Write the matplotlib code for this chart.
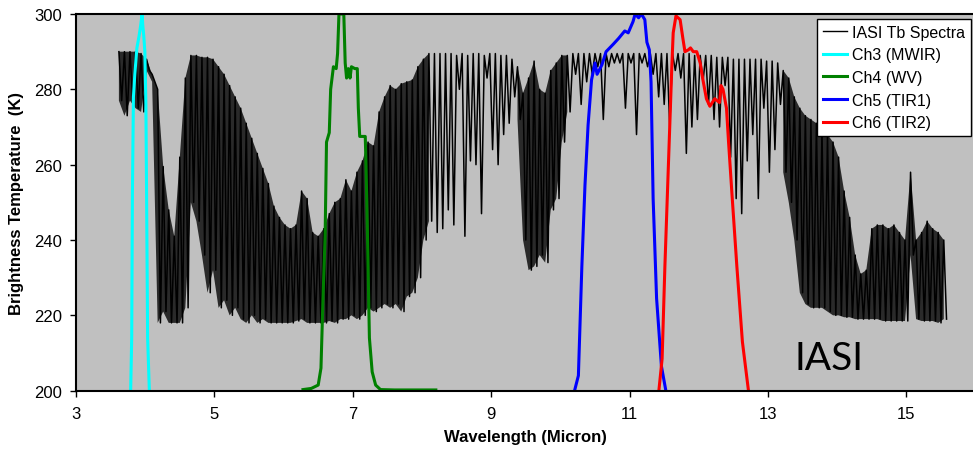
import numpy as np
import matplotlib
matplotlib.use('Agg')
import matplotlib.pyplot as plt

plt.rcParams['font.family'] = ['Liberation Sans', 'DejaVu Sans']

# IASI Tb spectrum, read as upper / lower envelope every 0.08 micron
env_wl = np.round(np.arange(3.62, 15.55, 0.08), 2)
env_top = [
    290, 290, 290, 290, 289.5, 288, 284, 280, 259.5, 248,
    241, 262, 283, 289, 289, 288.5, 288.5, 288, 286, 284,
    281, 278, 275, 271, 267, 263, 259, 255, 249, 246,
    244, 243, 244, 253, 251, 242, 241, 243, 247, 250,
    251, 256, 253, 258, 261, 266, 265, 274, 278, 281,
    280, 281.5, 282, 282.5, 286, 288, 289.5, 289.5, 289.5, 289.5,
    289.5, 289, 289.5, 289, 289.5, 289.5, 289, 289.5, 289.5, 289,
    289, 288, 286, 279, 283, 287.5, 280, 279, 285, 287,
    289, 289, 289.5, 289.5, 289.5, 289.5, 289.5, 289.5, 289.5, 289.5,
    289.5, 289.5, 289.5, 289.5, 289.5, 289.5, 289.5, 289.5, 289.5, 289.5,
    289.5, 289.5, 289.5, 289.5, 289, 289, 289, 289, 288.5, 288.5,
    288.5, 288, 288, 288, 288, 288, 288, 287.5, 287.5, 287,
    285, 283, 278, 275, 273, 272, 271, 269, 268, 266,
    262, 253, 246, 236, 231, 232, 243, 244, 244, 243,
    244, 242, 240, 258, 240, 242, 245, 243, 242, 240,
]
env_bot = [
    277, 273, 277, 275, 274, 285, 282, 218, 221, 218,
    218, 218, 222, 250, 245, 236, 226, 232, 222, 224,
    220, 222, 219, 218, 220, 218, 219, 218, 218, 218,
    218, 218, 218.5, 219, 218, 218, 218, 218, 218.5, 218,
    219, 219, 220, 219, 220, 222, 221, 222, 223, 222,
    223, 221, 225, 226, 230, 240, 245, 242, 243, 248,
    244, 280, 241, 261, 260, 247, 283, 264, 260, 268,
    271, 278, 272, 240, 232, 233, 236, 234, 248, 251,
    266, 274, 284, 276, 282, 284, 286, 272, 286, 287,
    287, 275, 287, 268, 287, 286, 284, 278, 276, 270,
    285, 283, 263, 270, 272, 282, 276, 272, 270, 281,
    262, 251, 247, 261, 268, 251, 275, 258, 264, 276,
    258, 250, 240, 226, 223, 222, 222, 222, 221, 220,
    220, 219.5, 219.5, 219, 219, 219, 219, 219, 218.5, 218.5,
    218.5, 218.5, 218.5, 236, 219, 218.5, 218.5, 218.5, 218, 219,
]
# wavelength spans where the spectrum is a dense comb of lines
dense_spans = [(3.62, 4.14), (4.18, 8.1), (9.38, 10.1), (13.22, 15.58)]

# channel spectral responses, drawn on the Tb scale
ch3_wl = [3.79, 3.805, 3.815, 3.83, 3.85, 3.88, 3.91, 3.935, 3.955, 3.965,
          3.98, 3.995, 4.01, 4.02, 4.035, 4.06]
ch3_tb = [200, 214, 252, 278, 284, 291, 294, 297, 300, 297,
          294, 290, 276, 252, 214, 200]

ch4_wl = [6.28, 6.40, 6.50, 6.54, 6.57, 6.60, 6.62, 6.66, 6.68, 6.72, 6.76,
          6.78, 6.80, 6.87, 6.89, 6.91, 6.935, 6.96, 6.98, 7.03, 7.065, 7.08,
          7.10, 7.18, 7.19, 7.21, 7.24, 7.28, 7.33, 7.40, 7.60, 8.00, 8.20]
ch4_tb = [200.3, 200.6, 201.5, 206, 225, 241, 266, 268.5, 280, 286, 285.5,
          289.5, 300, 300, 287, 283, 285.5, 283, 286, 285.5, 285.5, 275,
          267.5, 267.5, 260.5, 243, 214, 205, 201.5, 200.3, 200.2, 200.2, 200.2]

ch5_wl = [10.21, 10.26, 10.31, 10.355, 10.40, 10.45, 10.50, 10.53, 10.60,
          10.66, 10.765, 10.84, 10.93, 10.98, 11.05, 11.08, 11.13, 11.17,
          11.22, 11.25, 11.285, 11.31, 11.34, 11.39, 11.46, 11.52]
ch5_tb = [200.4, 204, 233, 254.5, 270.5, 282.5, 287, 284, 286.5,
          290, 292, 293.5, 295.5, 295, 298, 300, 299, 300,
          298.5, 292.5, 290.5, 282, 251, 224.5, 206.5, 200.4]

ch6_wl = [11.425, 11.47, 11.51, 11.56, 11.61, 11.63, 11.67, 11.73, 11.77,
          11.80, 11.85, 11.88, 11.92, 11.97, 12.02, 12.06, 12.11, 12.16,
          12.23, 12.30, 12.32, 12.35, 12.40, 12.43, 12.48, 12.55, 12.63, 12.715]
ch6_tb = [200.4, 208.5, 233, 259.5, 286, 295, 299.5, 298.5, 293.5,
          290, 290.5, 291, 290, 290, 287, 282.5, 277.5, 275.5,
          277.5, 276.5, 281, 280, 275, 266, 252, 233, 213, 200.4]

x_ticks = [3, 5, 7, 9, 11, 13, 15]
y_ticks = [200, 220, 240, 260, 280, 300]

# zigzag between envelope values gives the dense line look
spec_x = np.column_stack([env_wl, env_wl + 0.04]).ravel()
spec_y = np.column_stack([env_top, env_bot]).ravel()
dense = np.zeros(len(env_wl), dtype=bool)
for lo, hi in dense_spans:
    dense |= (env_wl >= lo) & (env_wl <= hi)

fig = plt.figure(figsize=(9.73, 4.52), dpi=100)
ax = fig.add_axes([76 / 973, 1 - 391.7 / 452, 899.6 / 973, 376.7 / 452])
ax.set_facecolor('#c0c0c0')

ax.fill_between(env_wl, env_bot, env_top, where=dense, color='black',
                alpha=0.78, lw=0)
ax.plot(spec_x, spec_y, color='black', lw=1.1, label='IASI Tb Spectra')
ax.plot(ch3_wl, ch3_tb, color='#00ffff', lw=2.2, label='Ch3 (MWIR)')
ax.plot(ch4_wl, ch4_tb, color='#008000', lw=2.2, label='Ch4 (WV)')
ax.plot(ch5_wl, ch5_tb, color='#0000ff', lw=2.2, label='Ch5 (TIR1)')
ax.plot(ch6_wl, ch6_tb, color='#ff0000', lw=2.2, label='Ch6 (TIR2)')

ax.set_xlim(3, 16)
ax.set_ylim(200, 300)
ax.set_xticks(x_ticks)
ax.set_yticks(y_ticks)
ax.tick_params(axis='both', direction='out', length=4, width=1, labelsize=12)
ax.tick_params(axis='x', pad=7)
ax.tick_params(axis='y', pad=6)
for sp in ax.spines.values():
    sp.set_linewidth(1.5)
    sp.set_color('black')

ax.set_xlabel('Wavelength (Micron)', fontsize=12, fontweight='bold', labelpad=6)
ax.set_ylabel('Brightness Temperature  (K)', fontsize=12, fontweight='bold', labelpad=7)

ax.text(13.39, 205.8, 'IASI', family='Lato', fontsize=28, va='baseline', ha='left')

leg = ax.legend(loc='upper left', bbox_to_anchor=(817 / 973, 1 - 20 / 452),
                bbox_transform=fig.transFigure, borderaxespad=0, fontsize=11.5,
                frameon=True, fancybox=False, framealpha=1, edgecolor='black',
                handlelength=1.5, handletextpad=0.35, labelspacing=0.48,
                borderpad=0.35)
leg.get_frame().set_linewidth(1.0)
leg.get_lines()[0].set_linewidth(1.0)

fig.savefig('out.png', dpi=100)
